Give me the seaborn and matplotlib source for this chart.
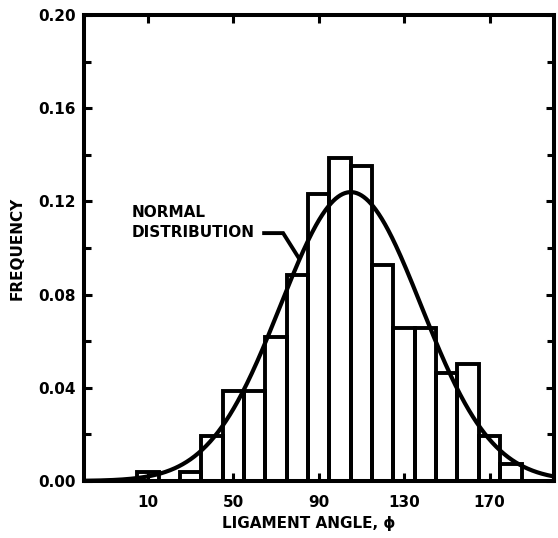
import numpy as np
import pandas as pd
import matplotlib
matplotlib.use("Agg")
import matplotlib.pyplot as plt
import seaborn as sns
from matplotlib.ticker import MultipleLocator, FixedLocator

# ---- data ----
bin_centers = [10, 20, 30, 40, 50, 60, 70, 80, 90, 100, 110, 120, 130, 140, 150, 160, 170, 180]
frequency = [0.0037, 0.0, 0.0037, 0.0195, 0.0385, 0.0385, 0.0618, 0.0885, 0.1232, 0.1387,
             0.1350, 0.0925, 0.0655, 0.0655, 0.0465, 0.0502, 0.0195, 0.0075]
bin_width = 10
normal_mean = 105.0
normal_sd = 33.0
normal_peak = 0.124
x_ticks = [10, 50, 90, 130, 170]
y_ticks = [0.00, 0.04, 0.08, 0.12, 0.16, 0.20]

sns.set_style("ticks")
plt.rcParams["font.family"] = ["DejaVu Sans"]
plt.rcParams["font.weight"] = "bold"
for key in ["text.color", "axes.labelcolor", "xtick.color", "ytick.color", "axes.edgecolor"]:
    plt.rcParams[key] = "black"

fig = plt.figure(figsize=(5.58, 5.38), dpi=100)
ax = fig.add_axes([0.1505, 0.106, 0.992 - 0.1505, 0.972 - 0.106])

df = pd.DataFrame({"angle": bin_centers, "freq": frequency})
edges = [c - bin_width / 2 for c in bin_centers] + [bin_centers[-1] + bin_width / 2]
sns.histplot(data=df, x="angle", weights="freq", bins=edges, stat="count",
             fill=False, edgecolor="black", color="black", linewidth=2.8, ax=ax)

xs = np.linspace(-20, 200, 600)
curve = pd.DataFrame({"x": xs,
                      "y": normal_peak * np.exp(-(xs - normal_mean) ** 2 / (2 * normal_sd ** 2))})
sns.lineplot(data=curve, x="x", y="y", color="black", linewidth=3.0, ax=ax)

# annotation with leader
x_end = 81.0
y_end = normal_peak * np.exp(-(x_end - normal_mean) ** 2 / (2 * normal_sd ** 2))
ax.plot([63.5, 73.3, x_end], [0.1064, 0.1064, y_end], color="black", lw=2.8,
        solid_capstyle="butt", solid_joinstyle="miter")
ax.text(2.5, 0.1133, "NORMAL", fontsize=11, fontweight="bold", ha="left", va="baseline")
ax.text(2.5, 0.1047, "DISTRIBUTION", fontsize=11, fontweight="bold", ha="left", va="baseline")

ax.set_xlim(-20, 200)
ax.set_ylim(0, 0.20)
ax.xaxis.set_major_locator(FixedLocator(x_ticks))
ax.yaxis.set_major_locator(FixedLocator(y_ticks))
ax.yaxis.set_minor_locator(MultipleLocator(0.02))
ax.set_yticklabels([f"{v:.2f}" for v in y_ticks])

for s in ax.spines.values():
    s.set_visible(True)
    s.set_linewidth(2.9)
    s.set_color("black")

ax.tick_params(axis="both", which="major", direction="in", length=6, width=2.2,
               top=True, right=True, labelsize=11, color="black")
ax.tick_params(axis="y", which="minor", direction="in", length=5, width=2.2, right=True)
ax.tick_params(axis="x", which="major", pad=10)
ax.tick_params(axis="y", which="major", pad=6)
for lab in ax.get_xticklabels() + ax.get_yticklabels():
    lab.set_fontweight("bold")

ax.set_xlabel("LIGAMENT ANGLE, \u03d5", fontsize=11, fontweight="bold", labelpad=5)
ax.set_ylabel("FREQUENCY", fontsize=11, fontweight="bold", labelpad=10)
ax.xaxis.set_label_coords(0.479, -0.075)

fig.savefig("out.png", dpi=100, facecolor="white")
